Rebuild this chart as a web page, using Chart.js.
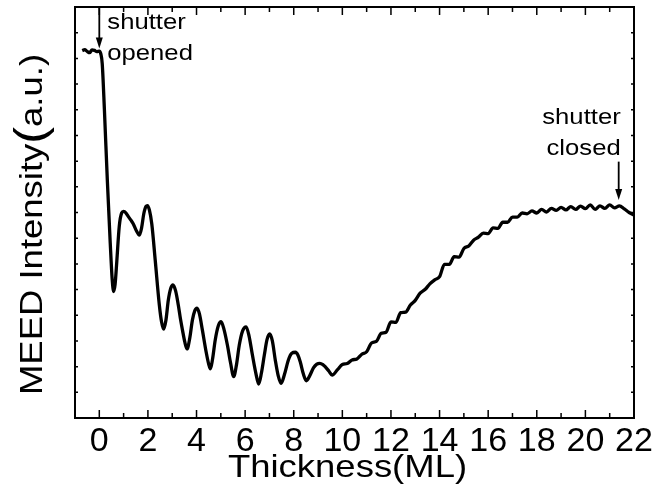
<!DOCTYPE html>
<html>
<head>
<meta charset="utf-8">
<script src="https://cdn.jsdelivr.net/npm/chart.js@4/dist/chart.umd.min.js"></script>
<style>
  html, body { margin: 0; padding: 0; background: #fff; }
  canvas { display: block; }
</style>
</head>
<body>
<canvas id="meed" width="652" height="491"></canvas>
<script>
// Film thickness in monolayers
const thicknessML = [
  -0.70, -0.60, -0.50, -0.40, -0.30, -0.20, -0.10, 0.00, 0.06, 0.12,
  0.21, 0.33, 0.45, 0.53, 0.59, 0.65, 0.72, 0.82, 0.92, 1.00,
  1.10, 1.19, 1.30, 1.40, 1.52, 1.65, 1.74, 1.83, 1.92, 1.98,
  2.06, 2.16, 2.30, 2.47, 2.56, 2.65, 2.74, 2.84, 2.94, 3.03,
  3.14, 3.25, 3.34, 3.42, 3.52, 3.61, 3.72, 3.83, 3.93, 4.02,
  4.12, 4.24, 4.40, 4.50, 4.57, 4.66, 4.77, 4.90, 5.01, 5.13,
  5.27, 5.40, 5.53, 5.64, 5.76, 5.90, 6.04, 6.16, 6.30, 6.44,
  6.56, 6.67, 6.79, 6.90, 7.01, 7.12, 7.24, 7.36, 7.48, 7.62,
  7.78, 7.92, 8.07, 8.17, 8.27, 8.40, 8.52, 8.66, 8.81, 8.95,
  9.07, 9.20, 9.30, 9.45, 9.58, 9.80, 10.0, 10.2, 10.4, 10.6,
  10.8, 11.0, 11.2, 11.4, 11.6, 11.8, 12.0, 12.2, 12.4, 12.6,
  12.8, 13.0, 13.2, 13.4, 13.6, 13.8, 14.0, 14.2, 14.4, 14.6,
  14.8, 15.0, 15.2, 15.4, 15.6, 15.8, 16.0, 16.2, 16.4, 16.6,
  16.8, 17.0, 17.2, 17.4, 17.6, 17.8, 18.0, 18.2, 18.4, 18.6,
  18.8, 19.0, 19.2, 19.4, 19.6, 19.8, 20.0, 20.2, 20.4, 20.6,
  20.8, 21.0, 21.2, 21.4, 21.6, 21.8, 22.0
];

// MEED specular intensity (arbitrary units)
const meedIntensity = [
  14.30, 14.34, 14.27, 14.22, 14.33, 14.31, 14.26, 14.28, 14.18, 13.80,
  12.00, 9.26, 6.81, 5.40, 4.92, 5.20, 6.10, 7.45, 7.98, 8.04,
  7.98, 7.85, 7.70, 7.55, 7.30, 7.12, 7.40, 7.95, 8.24, 8.27,
  8.10, 7.55, 6.15, 4.40, 3.75, 3.46, 3.80, 4.59, 5.05, 5.18,
  4.95, 4.40, 3.85, 3.43, 2.95, 2.69, 3.10, 3.81, 4.18, 4.28,
  4.05, 3.43, 2.55, 2.10, 1.91, 2.30, 3.04, 3.60, 3.75, 3.45,
  2.84, 2.15, 1.61, 2.05, 2.84, 3.40, 3.55, 3.20, 2.45, 1.75,
  1.32, 1.75, 2.45, 3.05, 3.27, 3.00, 2.26, 1.65, 1.35, 1.70,
  2.26, 2.52, 2.56, 2.45, 2.18, 1.70, 1.45, 1.65, 1.95, 2.10,
  2.13, 2.08, 1.99, 1.82, 1.67, 1.88, 2.08, 2.12, 2.26, 2.30,
  2.48, 2.58, 2.92, 2.98, 3.30, 3.34, 3.74, 3.72, 4.10, 4.12,
  4.40, 4.58, 4.86, 5.00, 5.22, 5.38, 5.50, 5.98, 5.98, 6.28,
  6.26, 6.60, 6.70, 6.92, 7.04, 7.20, 7.18, 7.40, 7.38, 7.62,
  7.62, 7.82, 7.82, 7.98, 7.95, 8.06, 7.98, 8.12, 8.02, 8.16,
  8.08, 8.20, 8.10, 8.23, 8.12, 8.25, 8.15, 8.30, 8.12, 8.26,
  8.16, 8.30, 8.18, 8.26, 8.14, 8.00, 7.90
];

// Labelled ticks on the thickness axis
const xTickValues = [0, 2, 4, 6, 8, 10, 12, 14, 16, 18, 20, 22];

const FONT = '"Liberation Sans", Arial, Helvetica, sans-serif';
const STRETCH = 1.14;

// Shutter events: arrow column (ML) and the intensity span it covers
const shutterEvents = [
  { lines: ['shutter', 'opened'], at: 0, from: 16, to: 14.38, side: 'right' },
  { lines: ['shutter', 'closed'], at: 21.37, from: 9.98, to: 8.49, side: 'left' }
];

function stretchedText(ctx, text, x, y, align) {
  const w = ctx.measureText(text).width * STRETCH;
  let left = x;
  if (align === 'center') left = x - w / 2;
  else if (align === 'right') left = x - w;
  ctx.save();
  ctx.translate(left, y);
  ctx.scale(STRETCH, 1);
  ctx.textAlign = 'left';
  ctx.fillText(text, 0, 0);
  ctx.restore();
  return w;
}

const frameAndNotes = {
  id: 'frameAndNotes',
  afterDatasetsDraw(chart) {
    const { ctx, chartArea: a, scales: { x, y } } = chart;
    ctx.save();
    ctx.strokeStyle = '#000';
    ctx.fillStyle = '#000';

    // frame
    ctx.lineWidth = 2;
    ctx.strokeRect(a.left, a.top, a.right - a.left, a.bottom - a.top);

    // inward ticks on all four sides
    ctx.lineWidth = 1.5;
    ctx.beginPath();
    for (let v = Math.ceil(x.min); v <= x.max; v++) {
      const px = x.getPixelForValue(v);
      if (px <= a.left + 1 || px >= a.right - 1) continue;
      const len = v % 2 === 0 ? 8 : 5;
      ctx.moveTo(px, a.bottom); ctx.lineTo(px, a.bottom - len);
      ctx.moveTo(px, a.top); ctx.lineTo(px, a.top + len);
    }
    for (let v = y.min + 1; v < y.max; v++) {
      const py = y.getPixelForValue(v);
      ctx.moveTo(a.left, py); ctx.lineTo(a.left + 3, py);
      ctx.moveTo(a.right, py); ctx.lineTo(a.right - 3, py);
    }
    ctx.stroke();

    // shutter arrows and their labels
    ctx.textBaseline = 'alphabetic';
    shutterEvents.forEach(ev => {
      const px = x.getPixelForValue(ev.at);
      const top = y.getPixelForValue(ev.from);
      const tip = y.getPixelForValue(ev.to);
      ctx.lineWidth = 1.8;
      ctx.beginPath();
      ctx.moveTo(px, top);
      ctx.lineTo(px, tip - 8);
      ctx.stroke();
      ctx.beginPath();
      ctx.moveTo(px - 3.5, tip - 11);
      ctx.lineTo(px + 3.5, tip - 11);
      ctx.lineTo(px, tip);
      ctx.closePath();
      ctx.fill();

      ctx.font = '22.5px ' + FONT;
      if (ev.side === 'right') {
        stretchedText(ctx, ev.lines[0], px + 8, tip - 20, 'left');
        stretchedText(ctx, ev.lines[1], px + 8, tip + 11, 'left');
      } else {
        stretchedText(ctx, ev.lines[0], px + 2, top - 38, 'right');
        stretchedText(ctx, ev.lines[1], px + 2, top - 7, 'right');
      }
    });

    // x axis title
    ctx.font = '32px ' + FONT;
    stretchedText(ctx, 'Thickness(ML)', (a.left + a.right) / 2 - 7, 477, 'center');

    // y axis title (rotated, with a large opening bracket)
    const main = 'MEED Intensity', paren = '(', unit = 'a.u.)';
    ctx.font = '32px ' + FONT;
    const wMain = ctx.measureText(main).width * STRETCH;
    const wUnit = ctx.measureText(unit).width * STRETCH;
    ctx.font = '44px ' + FONT;
    const wParen = ctx.measureText(paren).width * STRETCH;
    const total = wMain + wParen + wUnit;
    const cy = (a.top + a.bottom) / 2 + 12;
    ctx.save();
    ctx.translate(42, cy + total / 2);
    ctx.rotate(-Math.PI / 2);
    ctx.font = '32px ' + FONT;
    stretchedText(ctx, main, 0, 0, 'left');
    ctx.font = '44px ' + FONT;
    stretchedText(ctx, paren, wMain, 3, 'left');
    ctx.font = '32px ' + FONT;
    stretchedText(ctx, unit, wMain + wParen, 0, 'left');
    ctx.restore();

    ctx.restore();
  }
};

new Chart(document.getElementById('meed'), {
  type: 'line',
  data: {
    datasets: [{
      data: thicknessML.map((t, i) => ({ x: t, y: meedIntensity[i] })),
      borderColor: '#000',
      borderWidth: 3.3,
      pointRadius: 0,
      cubicInterpolationMode: 'monotone',
      fill: false
    }]
  },
  options: {
    responsive: false,
    animation: false,
    devicePixelRatio: 1,
    layout: { padding: { left: 0, right: 18, top: 7, bottom: 0 } },
    plugins: { legend: { display: false }, tooltip: { enabled: false } },
    scales: {
      x: {
        type: 'linear',
        min: -1,
        max: 22,
        afterBuildTicks: s => { s.ticks = xTickValues.map(v => ({ value: v })); },
        afterFit: s => { s.height = 73; s.paddingLeft = 0; s.paddingRight = 0; },
        grid: { display: false, drawTicks: false },
        border: { display: false },
        ticks: {
          autoSkip: false,
          maxRotation: 0,
          padding: 3,
          color: '#000',
          font: { family: FONT, size: 34 }
        }
      },
      y: {
        min: 0,
        max: 16,
        afterFit: s => { s.width = 75; },
        grid: { display: false, drawTicks: false },
        border: { display: false },
        ticks: { display: false }
      }
    }
  },
  plugins: [frameAndNotes]
});
</script>
</body>
</html>
